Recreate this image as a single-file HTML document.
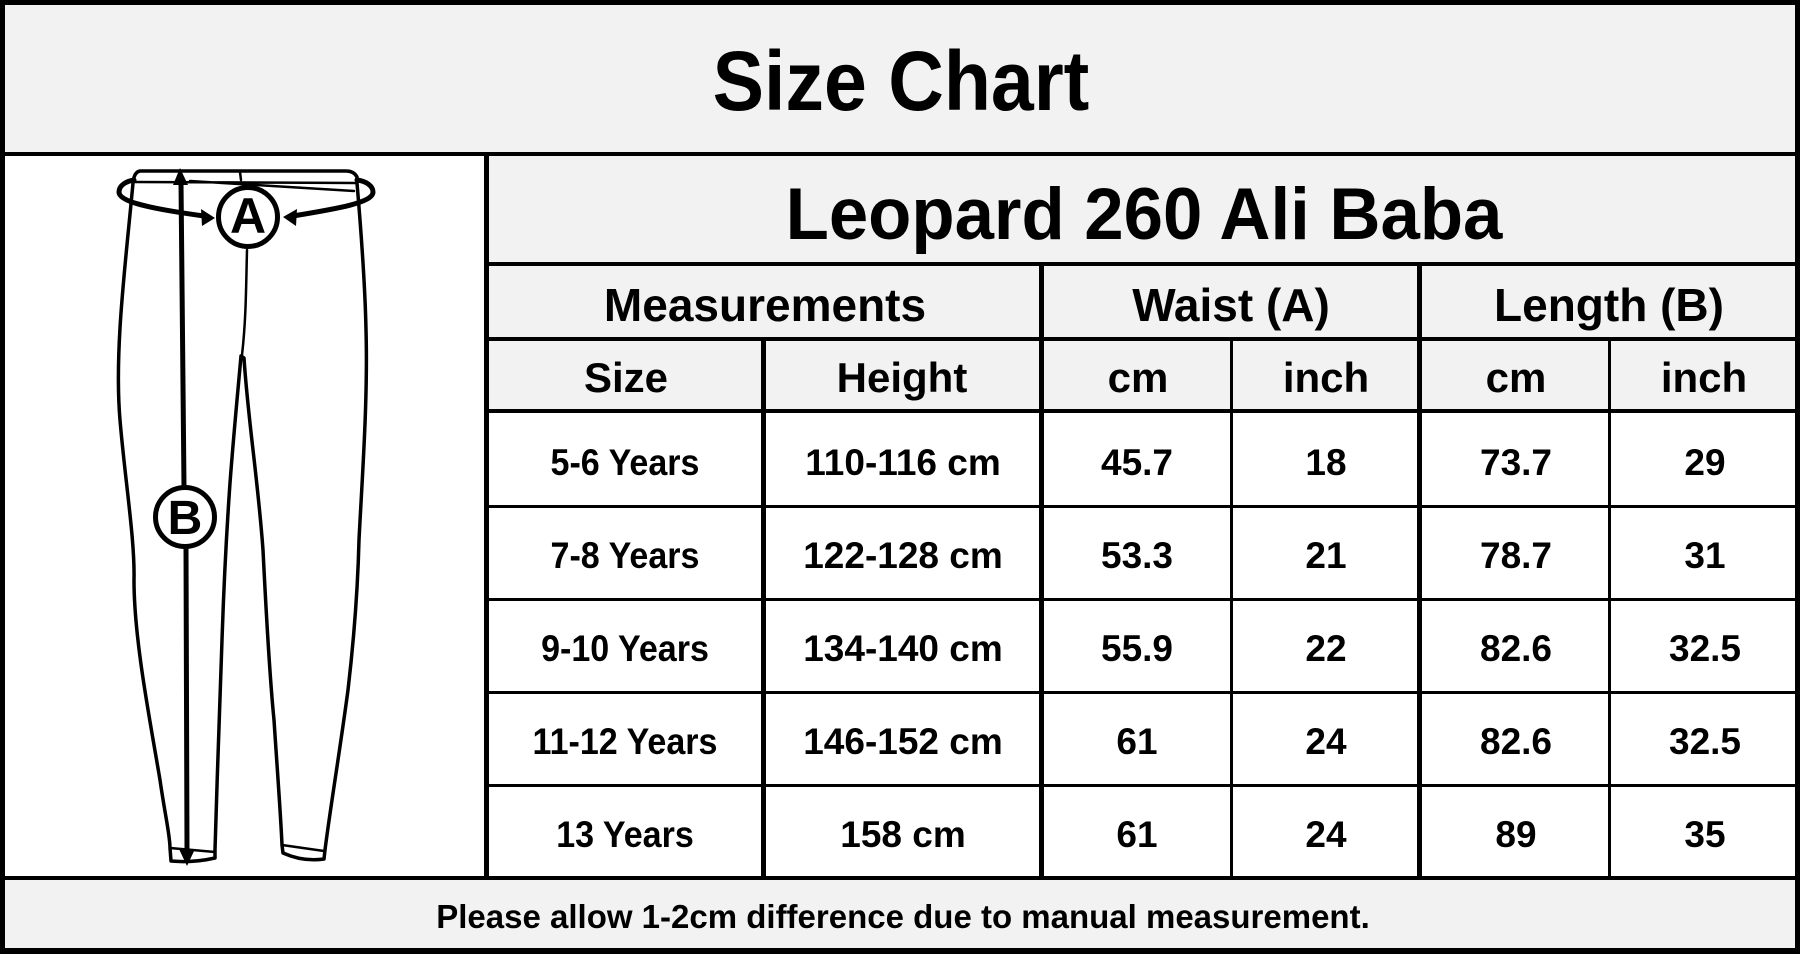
<!DOCTYPE html>
<html>
<head>
<meta charset="utf-8">
<style>
html,body{margin:0;padding:0;}
body{width:1800px;height:954px;position:relative;overflow:hidden;background:#fff;font-family:"Liberation Sans",Arial,sans-serif;}
.r{position:absolute;}
.b{position:absolute;background:#000;}
.g{position:absolute;background:#f2f2f2;}
.t{position:absolute;white-space:nowrap;font-weight:bold;line-height:1;color:#000;transform:translateX(-50%);}
.h1{font-size:84px;height:84px;transform:translateX(-50%) scaleX(0.917);}
.h2{font-size:73px;height:73px;transform:translateX(-50%) scaleX(0.969);}
.h3{font-size:46px;height:46px;}
.h4{font-size:42px;height:42px;}
.d{font-size:37px;height:37px;}
.ds{font-size:37px;height:37px;transform:translateX(-50%) scaleX(0.92);}
.f{font-size:33px;height:33px;}
</style>
</head>
<body>
<!-- backgrounds -->
<div class="g" style="left:5px;top:5px;width:1790px;height:147px;"></div>
<div class="g" style="left:489px;top:156px;width:1306px;height:253px;"></div>
<div class="g" style="left:5px;top:880px;width:1790px;height:68px;"></div>

<!-- outer border -->
<div class="b" style="left:0;top:0;width:1800px;height:5px;"></div>
<div class="b" style="left:0;top:948px;width:1800px;height:6px;"></div>
<div class="b" style="left:0;top:0;width:5px;height:954px;"></div>
<div class="b" style="left:1795px;top:0;width:5px;height:954px;"></div>

<!-- horizontal lines -->
<div class="b" style="left:0;top:152px;width:1800px;height:4px;"></div>
<div class="b" style="left:485px;top:262px;width:1315px;height:4px;"></div>
<div class="b" style="left:485px;top:337px;width:1315px;height:4px;"></div>
<div class="b" style="left:485px;top:409px;width:1315px;height:4px;"></div>
<div class="b" style="left:485px;top:505px;width:1315px;height:2.5px;"></div>
<div class="b" style="left:485px;top:598px;width:1315px;height:2.5px;"></div>
<div class="b" style="left:485px;top:691px;width:1315px;height:2.5px;"></div>
<div class="b" style="left:485px;top:784px;width:1315px;height:2.5px;"></div>
<div class="b" style="left:0;top:876px;width:1800px;height:4px;"></div>

<!-- vertical lines -->
<div class="b" style="left:484px;top:152px;width:5px;height:728px;"></div>
<div class="b" style="left:761px;top:337px;width:4.5px;height:543px;"></div>
<div class="b" style="left:1039px;top:262px;width:4.5px;height:618px;"></div>
<div class="b" style="left:1230px;top:337px;width:3px;height:543px;"></div>
<div class="b" style="left:1417px;top:262px;width:4.5px;height:618px;"></div>
<div class="b" style="left:1608px;top:337px;width:3px;height:543px;"></div>

<!-- titles -->
<div class="t h1" style="left:901px;top:39px;">Size Chart</div>
<div class="t h2" style="left:1144px;top:178px;">Leopard 260 Ali Baba</div>

<div class="t h3" style="left:765px;top:282px;">Measurements</div>
<div class="t h3" style="left:1231px;top:282px;">Waist (A)</div>
<div class="t h3" style="left:1609px;top:282px;">Length (B)</div>

<div class="t h4" style="left:626px;top:357px;">Size</div>
<div class="t h4" style="left:902px;top:357px;">Height</div>
<div class="t h4" style="left:1138px;top:357px;">cm</div>
<div class="t h4" style="left:1326px;top:357px;">inch</div>
<div class="t h4" style="left:1516px;top:357px;">cm</div>
<div class="t h4" style="left:1704px;top:357px;">inch</div>

<!-- data rows -->
<div class="t ds" style="left:625px;top:444px;">5-6 Years</div>
<div class="t d" style="left:903px;top:444px;">110-116 cm</div>
<div class="t d" style="left:1137px;top:444px;">45.7</div>
<div class="t d" style="left:1326px;top:444px;">18</div>
<div class="t d" style="left:1516px;top:444px;">73.7</div>
<div class="t d" style="left:1705px;top:444px;">29</div>

<div class="t ds" style="left:625px;top:537px;">7-8 Years</div>
<div class="t d" style="left:903px;top:537px;">122-128 cm</div>
<div class="t d" style="left:1137px;top:537px;">53.3</div>
<div class="t d" style="left:1326px;top:537px;">21</div>
<div class="t d" style="left:1516px;top:537px;">78.7</div>
<div class="t d" style="left:1705px;top:537px;">31</div>

<div class="t ds" style="left:625px;top:630px;">9-10 Years</div>
<div class="t d" style="left:903px;top:630px;">134-140 cm</div>
<div class="t d" style="left:1137px;top:630px;">55.9</div>
<div class="t d" style="left:1326px;top:630px;">22</div>
<div class="t d" style="left:1516px;top:630px;">82.6</div>
<div class="t d" style="left:1705px;top:630px;">32.5</div>

<div class="t ds" style="left:625px;top:723px;">11-12 Years</div>
<div class="t d" style="left:903px;top:723px;">146-152 cm</div>
<div class="t d" style="left:1137px;top:723px;">61</div>
<div class="t d" style="left:1326px;top:723px;">24</div>
<div class="t d" style="left:1516px;top:723px;">82.6</div>
<div class="t d" style="left:1705px;top:723px;">32.5</div>

<div class="t ds" style="left:625px;top:816px;">13 Years</div>
<div class="t d" style="left:903px;top:816px;">158 cm</div>
<div class="t d" style="left:1137px;top:816px;">61</div>
<div class="t d" style="left:1326px;top:816px;">24</div>
<div class="t d" style="left:1516px;top:816px;">89</div>
<div class="t d" style="left:1705px;top:816px;">35</div>

<!-- footer -->
<div class="t f" style="left:903px;top:900px;">Please allow 1-2cm difference due to manual measurement.</div>

<!-- pants figure -->
<svg class="r" style="left:0;top:0;" width="489" height="954" viewBox="0 0 489 954">
  <g fill="none" stroke="#000" stroke-linejoin="round" stroke-linecap="round">
    <path fill="#fff" stroke-width="3.5" d="M 133 183 C 126 260, 114 350, 120 420 C 125 480, 135 540, 134 580 C 134 640, 150 720, 160 780 C 165 815, 170 835, 170 848 L 171 861 Q 193 863 215 858 L 215 850 C 217 780, 220 700, 222 640 C 224 580, 226 540, 230 483 C 234 430, 238 390, 241 356 L 244 358 C 248 420, 258 480, 263 550 C 266 610, 270 680, 274 720 C 278 780, 281 820, 282 845 L 283 853 Q 303 862 324 859 L 325 850 C 330 810, 340 750, 348 690 C 355 630, 358 580, 359 540 C 362 480, 368 400, 366 330 C 365 280, 361 230, 357 183 L 357 177 Q 354 171 346 171 L 140 171 Q 134 172 133 183 Z"/>
    <path stroke-width="2.5" d="M 170 848 L 215 852 M 282 845 L 324 851"/>
    <path stroke-width="2.5" d="M 134 182 L 356 183 M 190 181 L 354 191 M 240 172 L 241 180"/>
    <path stroke-width="2.5" d="M 247 250 C 246 290, 246 320, 242 355"/>
    <!-- waist loop -->
    <path stroke-width="5" d="M 204 216 C 160 210, 119 203, 119 192 C 119 185, 127 181, 134 180"/>
    <path stroke-width="5" d="M 293 216 C 335 209, 373 203, 373 192 C 373 186, 366 181, 357 180"/>
    <!-- vertical arrow -->
    <path stroke-width="5" d="M 181 182 L 184 487"/>
    <path stroke-width="5" d="M 186 547 L 187 852"/>
    <circle cx="248" cy="217" r="29.5" fill="#fff" stroke-width="5"/>
    <circle cx="185" cy="517" r="29.5" fill="#fff" stroke-width="5"/>
  </g>
  <g fill="#000">
    <polygon points="215,218 201,209 202,226"/>
    <polygon points="283,217 297,209 296,226"/>
    <polygon points="180,168 173,185 188,185"/>
    <polygon points="187,866 179,849 195,849"/>
    <text x="248" y="233" font-family="Liberation Sans, Arial, sans-serif" font-weight="bold" font-size="50" text-anchor="middle">A</text>
    <text x="185" y="534" font-family="Liberation Sans, Arial, sans-serif" font-weight="bold" font-size="48" text-anchor="middle">B</text>
  </g>
</svg>
</body>
</html>
